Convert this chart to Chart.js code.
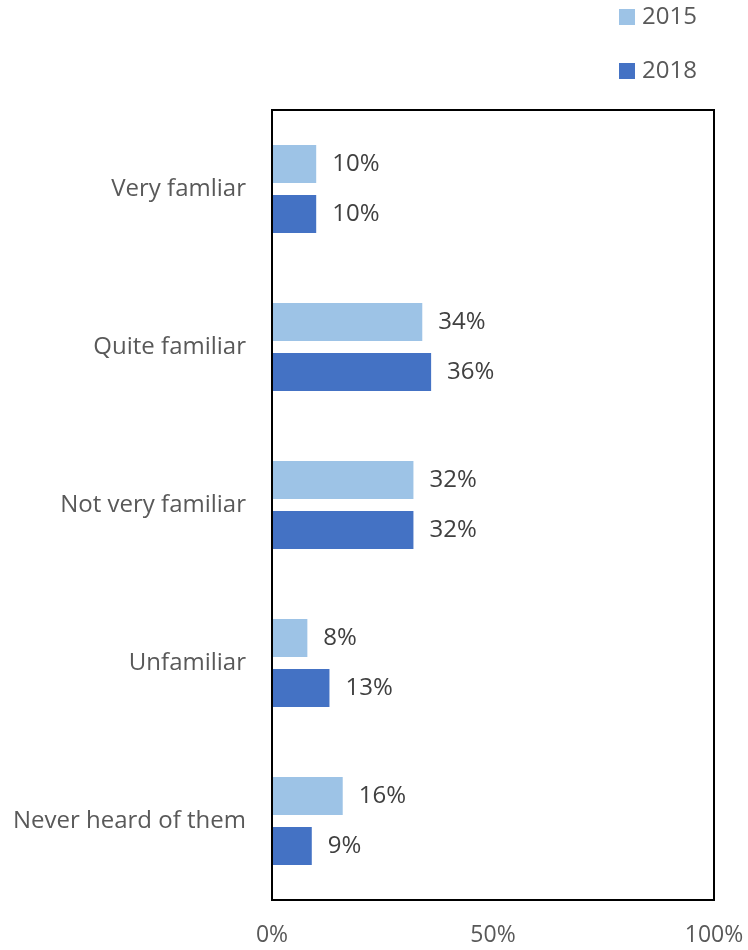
<!DOCTYPE html>
<html>
<head>
<meta charset="utf-8">
<script src="https://cdn.jsdelivr.net/npm/chart.js@4.4.0/dist/chart.umd.min.js"></script>
<style>
  html, body { margin: 0; padding: 0; background: #fff; }
  #wrap { width: 748px; height: 950px; }
</style>
</head>
<body>
<div id="wrap"><canvas id="chart" width="748" height="950"></canvas></div>
<script>
const categories = ['Very famliar', 'Quite familiar', 'Not very familiar', 'Unfamiliar', 'Never heard of them'];
const values2015 = [10, 34, 32, 8, 16];
const values2018 = [10, 36, 32, 13, 9];
const xTicks = [0, 50, 100];

const FONT = "'Open Sans', sans-serif";

// value labels at the end of each bar
const barLabels = {
  id: 'barLabels',
  afterDatasetsDraw(chart) {
    const ctx = chart.ctx;
    ctx.save();
    ctx.font = '24px ' + FONT;
    ctx.fillStyle = '#404040';
    ctx.textAlign = 'left';
    ctx.textBaseline = 'middle';
    chart.data.datasets.forEach((ds, i) => {
      chart.getDatasetMeta(i).data.forEach((bar, j) => {
        ctx.fillText(ds.data[j] + '%', bar.x + 16, bar.y);
      });
    });
    ctx.restore();
  }
};

// box around the plot area
const plotBorder = {
  id: 'plotBorder',
  afterDraw(chart) {
    const a = chart.chartArea;
    const ctx = chart.ctx;
    ctx.save();
    ctx.strokeStyle = '#000';
    ctx.lineWidth = 2;
    ctx.strokeRect(a.left, a.top, a.right - a.left, a.bottom - a.top);
    ctx.restore();
  }
};

// stacked legend in the top right corner
const stackedLegend = {
  id: 'stackedLegend',
  afterDraw(chart) {
    const ctx = chart.ctx;
    ctx.save();
    ctx.font = '24px ' + FONT;
    ctx.textBaseline = 'middle';
    chart.data.datasets.forEach((ds, i) => {
      const y = 17 + i * 54;
      ctx.fillStyle = ds.backgroundColor;
      ctx.fillRect(619, y - 8, 16, 16);
      ctx.fillStyle = '#595959';
      ctx.fillText(ds.label, 642, y);
    });
    ctx.restore();
  }
};

new Chart(document.getElementById('chart'), {
  type: 'bar',
  data: {
    labels: categories,
    datasets: [
      {
        label: '2015',
        data: values2015,
        backgroundColor: '#9DC3E6',
        categoryPercentage: 0.633,
        barPercentage: 0.76
      },
      {
        label: '2018',
        data: values2018,
        backgroundColor: '#4472C4',
        categoryPercentage: 0.633,
        barPercentage: 0.76
      }
    ]
  },
  options: {
    indexAxis: 'y',
    responsive: false,
    animation: false,
    layout: {
      padding: { top: 110, right: 34, bottom: 0, left: 0 }
    },
    plugins: {
      legend: { display: false },
      tooltip: { enabled: false }
    },
    scales: {
      x: {
        min: 0,
        max: 100,
        afterBuildTicks: s => { s.ticks = xTicks.map(v => ({ value: v })); },
        afterFit: s => { s.height = 50; s.paddingLeft = 0; s.paddingRight = 0; },
        grid: { display: false, drawTicks: false },
        border: { display: false },
        ticks: {
          padding: 22,
          color: '#595959',
          font: { family: FONT, size: 23 },
          callback: v => v + '%'
        }
      },
      y: {
        afterFit: s => { s.width = 272; },
        grid: { display: false, drawTicks: false },
        border: { display: false },
        ticks: {
          padding: 26,
          color: '#595959',
          font: { family: FONT, size: 24 }
        }
      }
    }
  },
  plugins: [barLabels, plotBorder, stackedLegend]
});
</script>
</body>
</html>
